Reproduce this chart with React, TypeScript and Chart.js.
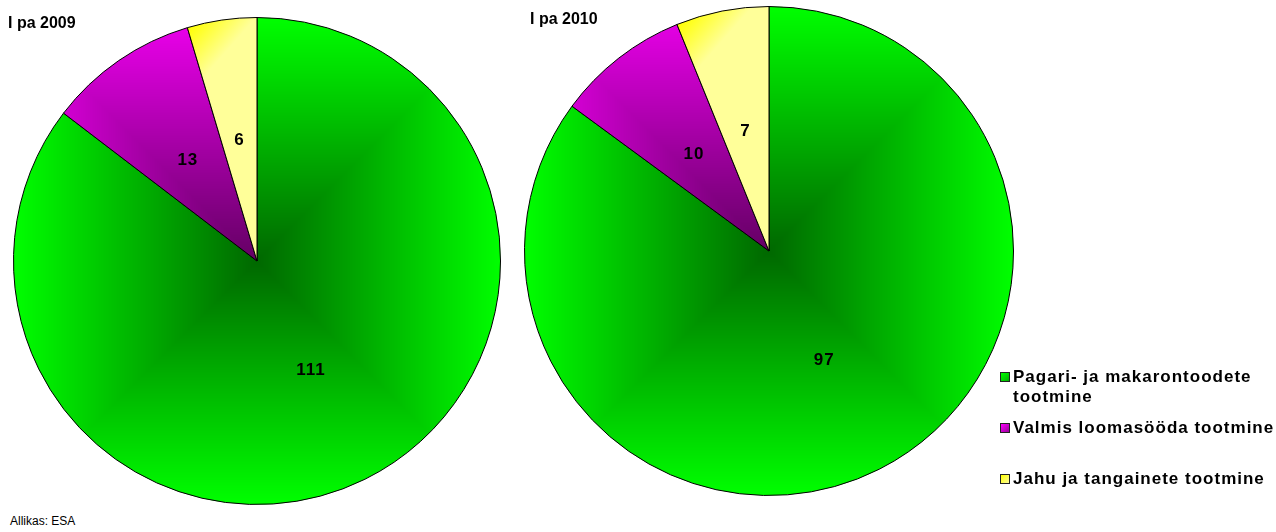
import React, { useEffect, useRef } from "react";
import { Chart, registerables } from "chart.js";

Chart.register(...registerables);

const categories = [
  "Pagari- ja makarontoodete tootmine",
  "Valmis loomasööda tootmine",
  "Jahu ja tangainete tootmine",
];
const values2009 = [111, 13, 6];
const values2010 = [97, 10, 7];
const periods = ["I pa 2009", "I pa 2010"];
const sourceNote = "Allikas: ESA";

const FONT = '"Liberation Sans", Arial, sans-serif';

const patternCache = new Map<string, CanvasPattern | null>();

function rectPattern(chart: any, key: string, inner: number[], outer: number[]) {
  const area = chart.chartArea;
  const w = chart.width;
  const h = chart.height;
  const ck = chart.id + key + w + "x" + h;
  if (patternCache.has(ck)) return patternCache.get(ck);
  const cx = (area.left + area.right) / 2;
  const cy = (area.top + area.bottom) / 2;
  const R = Math.min(area.width, area.height) / 2;
  const off = document.createElement("canvas");
  off.width = w;
  off.height = h;
  const octx = off.getContext("2d")!;
  const img = octx.createImageData(w, h);
  for (let y = 0; y < h; y++) {
    for (let x = 0; x < w; x++) {
      const t = Math.min(1, Math.max(Math.abs(x + 0.5 - cx), Math.abs(y + 0.5 - cy)) / R);
      const i = (y * w + x) * 4;
      img.data[i] = inner[0] + (outer[0] - inner[0]) * t;
      img.data[i + 1] = inner[1] + (outer[1] - inner[1]) * t;
      img.data[i + 2] = inner[2] + (outer[2] - inner[2]) * t;
      img.data[i + 3] = 255;
    }
  }
  octx.putImageData(img, 0, 0);
  const p = chart.ctx.createPattern(off, "no-repeat");
  patternCache.set(ck, p);
  return p;
}

function sliceColor(ctx: any) {
  const chart = ctx.chart;
  const area = chart.chartArea;
  const idx = ctx.dataIndex;
  const fallback = ["#00c000", "#a000a0", "#ffff99"][idx];
  if (!area) return fallback;
  if (idx === 0) return rectPattern(chart, "g", [0, 104, 0], [0, 255, 0]);
  if (idx === 1) return rectPattern(chart, "p", [100, 0, 100], [238, 0, 238]);
  const data = ctx.dataset.data as number[];
  const total = data.reduce((a, b) => a + b, 0);
  let before = 0;
  for (let i = 0; i < idx; i++) before += data[i];
  const ang = -Math.PI / 2 + (2 * Math.PI * before) / total;
  const cx = (area.left + area.right) / 2;
  const cy = (area.top + area.bottom) / 2;
  const R = Math.min(area.width, area.height) / 2;
  const ax = cx + R * Math.cos(ang);
  const ay = cy + R * Math.sin(ang);
  const g = chart.ctx.createLinearGradient(ax, ay, ax + 34, ay + 30);
  g.addColorStop(0, "#ffff00");
  g.addColorStop(1, "#ffff99");
  return g;
}

const labelPlugin = {
  id: "sliceLabels",
  afterDatasetsDraw(chart: any) {
    const ctx = chart.ctx;
    const meta = chart.getDatasetMeta(0);
    const data = chart.data.datasets[0].data;
    ctx.save();
    ctx.fillStyle = "#000";
    ctx.font = `bold 17px ${FONT}`;
    try {
      (ctx as any).letterSpacing = "1px";
    } catch (e) {}
    ctx.textAlign = "center";
    ctx.textBaseline = "middle";
    meta.data.forEach((el: any, i: number) => {
      const p = el.getCenterPoint();
      ctx.fillText(String(data[i]), p.x, p.y);
    });
    ctx.restore();
  },
};

function PieCanvas({ values, left, top, size }: { values: number[]; left: number; top: number; size: number }) {
  const ref = useRef<HTMLCanvasElement | null>(null);
  useEffect(() => {
    if (!ref.current) return;
    const chart = new Chart(ref.current, {
      type: "pie",
      data: {
        labels: categories,
        datasets: [
          {
            data: values,
            backgroundColor: sliceColor as any,
            borderColor: "#000",
            borderWidth: 1,
          },
        ],
      },
      options: {
        responsive: false,
        maintainAspectRatio: false,
        animation: false,
        layout: { padding: 0 },
        plugins: {
          legend: { display: false },
          tooltip: { enabled: false },
          title: { display: false },
        },
      },
      plugins: [labelPlugin],
    });
    return () => chart.destroy();
  }, [values]);
  return (
    <canvas
      ref={ref}
      width={size}
      height={size}
      style={{ position: "absolute", left, top, width: size, height: size }}
    />
  );
}

const legendSwatches = [
  "linear-gradient(135deg, #00ff00, #00b000)",
  "linear-gradient(135deg, #ff00ff, #9a009a)",
  "linear-gradient(135deg, #ffff00, #ffff99)",
];
const legendTops = [367, 418, 469];

export default function App() {
  return (
    <div
      style={{
        position: "fixed",
        left: 0,
        top: 0,
        width: 1276,
        height: 532,
        background: "#fff",
        overflow: "hidden",
        fontFamily: FONT,
      }}
    >
      <PieCanvas values={values2009} left={13} top={17} size={488} />
      <PieCanvas values={values2010} left={524} top={6} size={490} />
      <div style={{ position: "absolute", left: 8, top: 13, fontWeight: "bold", fontSize: 16, lineHeight: "20px" }}>
        {periods[0]}
      </div>
      <div style={{ position: "absolute", left: 530, top: 9, fontWeight: "bold", fontSize: 16, lineHeight: "20px" }}>
        {periods[1]}
      </div>
      {categories.map((c, i) => (
        <div key={c} style={{ position: "absolute", left: 1000, top: legendTops[i], width: 276 }}>
          <div
            style={{
              position: "absolute",
              left: 0,
              top: 5,
              width: 8,
              height: 8,
              border: "1px solid #222",
              background: legendSwatches[i],
            }}
          />
          <div
            style={{
              marginLeft: 13,
              width: 263,
              fontWeight: "bold",
              fontSize: 17,
              lineHeight: "20px",
              letterSpacing: "1px",
              color: "#000",
            }}
          >
            {c}
          </div>
        </div>
      ))}
      <div style={{ position: "absolute", left: 10, top: 513, fontSize: 12, lineHeight: "16px", color: "#000" }}>
        {sourceNote}
      </div>
    </div>
  );
}
